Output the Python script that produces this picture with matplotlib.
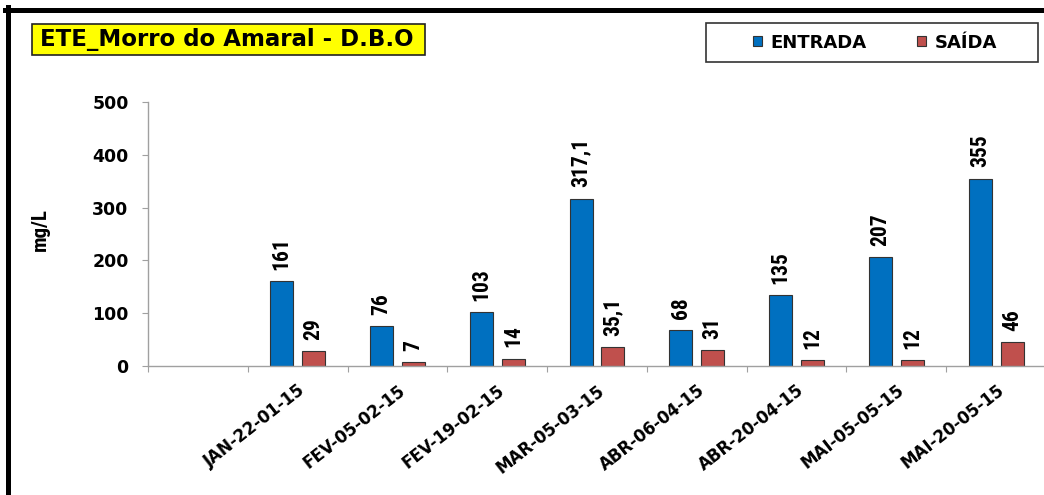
import numpy as np
import matplotlib.pyplot as plt
from matplotlib.patches import Rectangle
from matplotlib.lines import Line2D

plt.rcParams['font.family'] = ['DejaVu Sans']

W, H = 1044, 495

categories = ['', 'JAN-22-01-15', 'FEV-05-02-15', 'FEV-19-02-15', 'MAR-05-03-15',
              'ABR-06-04-15', 'ABR-20-04-15', 'MAI-05-05-15', 'MAI-20-05-15']
entrada = [np.nan, 161, 76, 103, 317.1, 68, 135, 207, 355]
saida = [np.nan, 29, 7, 14, 35.1, 31, 12, 12, 46]
series_names = ['ENTRADA', 'SAÍDA']
series_colors = ['#0070C0', '#C0504D']
y_ticks = [0, 100, 200, 300, 400, 500]

narrow = ['Liberation Sans Narrow', 'Roboto Condensed', 'Liberation Sans']


def fx(px):
    return px / W


def fy(py):
    return 1 - py / H


def fmt(v):
    return ('%g' % v).replace('.', ',')


fig = plt.figure(figsize=(W / 100, H / 100), dpi=100)
ax = fig.add_axes([fx(148), fy(366), 898 / W, 264 / H])

x = np.arange(len(categories))
bw = 0.23
off = 0.16
for vals, dx, col, name in [(entrada, -off, series_colors[0], series_names[0]),
                            (saida, off, series_colors[1], series_names[1])]:
    ax.bar(x + dx, vals, bw, color=col, edgecolor='#333333', linewidth=0.8, label=name)
    for xi, v in zip(x + dx, vals):
        if np.isnan(v):
            continue
        ax.annotate(fmt(v), (xi, v), xytext=(0, 8), textcoords='offset points',
                    rotation=90, ha='center', va='bottom', fontsize=15.5,
                    fontweight='bold', family=narrow)

ax.set_xlim(-0.5, len(categories) - 0.5)
ax.set_ylim(0, 500)
ax.set_yticks(y_ticks)
ax.set_yticklabels([str(t) for t in y_ticks], fontsize=12.5, fontweight='bold')
ax.set_xticks(np.arange(-0.5, len(categories), 1))
ax.set_xticklabels([])
ax.set_xticks(x, minor=True)
ax.set_xticklabels(categories, minor=True, fontsize=12, fontweight='bold',
                   rotation=38, ha='right', va='top', rotation_mode='anchor')
ax.tick_params(axis='x', which='minor', length=0, pad=11)
ax.tick_params(axis='x', which='major', length=4, color='#A0A0A0', direction='out')
ax.tick_params(axis='y', length=4, color='#A0A0A0', direction='out', pad=10)

for s in ['top', 'right']:
    ax.spines[s].set_visible(False)
for s in ['left', 'bottom']:
    ax.spines[s].set_color('#A0A0A0')
    ax.spines[s].set_linewidth(1)

fig.text(fx(40), fy(230), 'mg/L', rotation=90, ha='center', va='center',
         fontsize=15, fontweight='bold', family=narrow)

# title box
fig.add_artist(Rectangle((fx(32), fy(55)), 393 / W, 31 / H, transform=fig.transFigure,
                         facecolor='#FFFF00', edgecolor='#222222', linewidth=1.2))
fig.text(fx(40), fy(39.5), 'ETE_Morro do Amaral - D.B.O', ha='left', va='center',
         fontsize=16.5, fontweight='bold')

# legend box
fig.add_artist(Rectangle((fx(706), fy(62)), 332 / W, 39 / H, transform=fig.transFigure,
                         facecolor='white', edgecolor='#333333', linewidth=1.2))
handles, labels = ax.get_legend_handles_labels()
fig.legend(handles, labels, loc='center', bbox_to_anchor=(fx(875), fy(42.5)),
           ncol=2, frameon=False, prop={'weight': 'bold', 'size': 13},
           handlelength=0.5, handleheight=0.5, handletextpad=0.45,
           columnspacing=2.8, borderpad=0)

# outer frame (top and left edges visible)
fig.add_artist(Line2D([fx(5), fx(1044)], [fy(9.5), fy(9.5)], color='black',
                      linewidth=3.6, transform=fig.transFigure))
fig.add_artist(Line2D([fx(7.5), fx(7.5)], [fy(7), fy(495)], color='black',
                      linewidth=3.6, transform=fig.transFigure))

fig.savefig('out.png', dpi=100)
